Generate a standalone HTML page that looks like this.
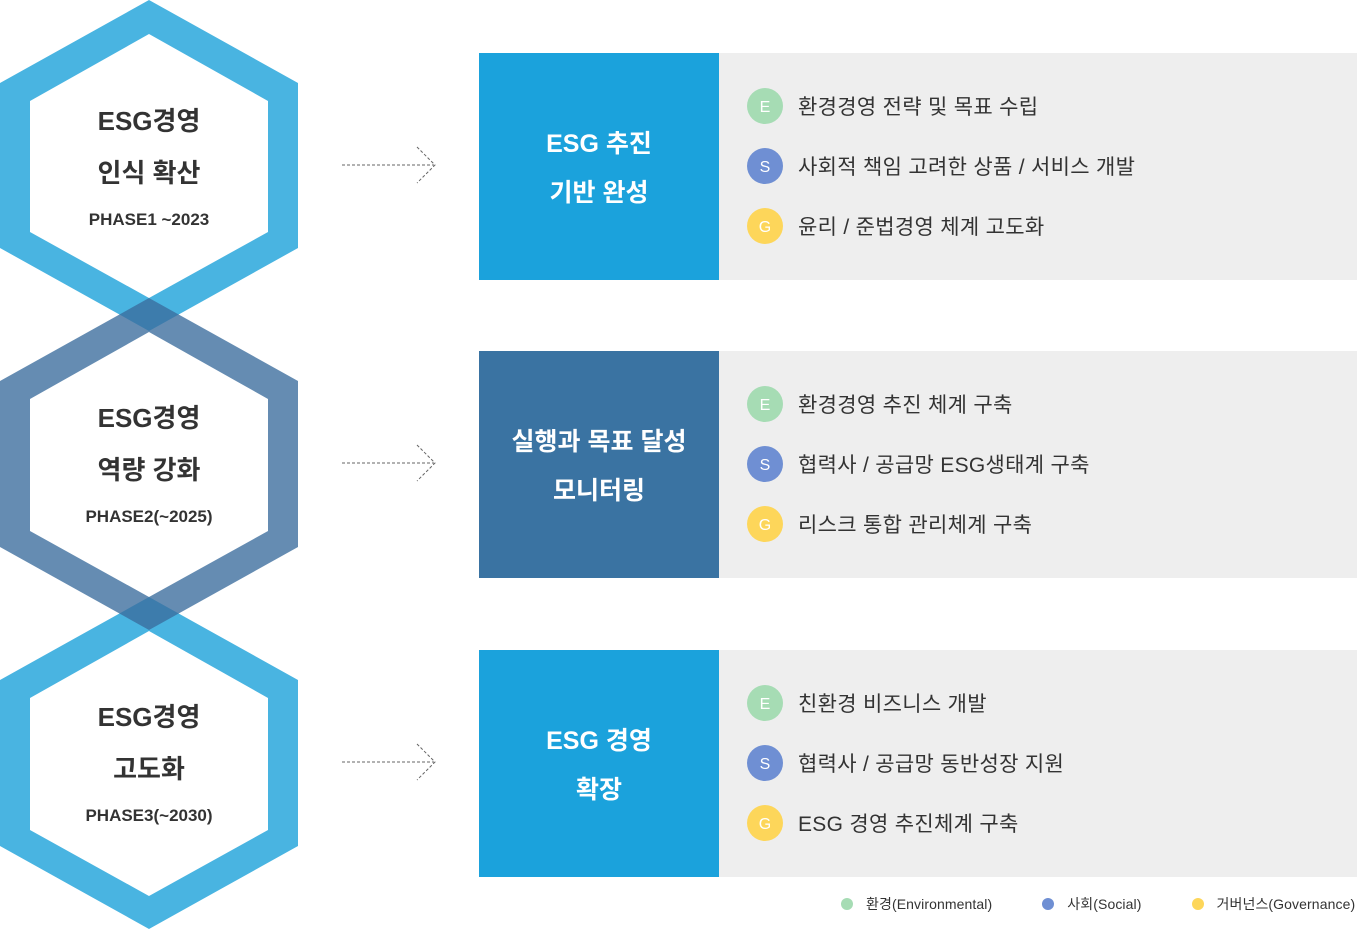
<!DOCTYPE html>
<html><head><meta charset="utf-8"><style>
body{margin:0;width:1357px;height:929px;position:relative;background:#fff;font-family:"Liberation Sans","Noto Sans CJK KR",sans-serif;overflow:hidden}
.a{position:absolute}
.box{position:absolute;left:479px;width:240px;height:227px;color:#fff;font-size:25px;font-weight:bold;text-align:center;display:flex;align-items:center;justify-content:center;line-height:49px;padding-top:4px;box-sizing:border-box}
.gray{position:absolute;left:719px;width:638px;height:227px;background:#eee}
.it{position:absolute;left:28px;font-size:21px;letter-spacing:0.3px;color:#333;display:flex;align-items:center;height:36px}
.c{width:36px;height:36px;border-radius:50%;color:#fff;font-size:16px;display:flex;align-items:center;justify-content:center;margin-right:15px;line-height:36px;padding-top:3px;box-sizing:border-box;letter-spacing:0}
.E{background:#a6dcb4}.S{background:#6f8fd3}.G{background:#fdd65a}
.ht{position:absolute;left:0;width:298px;text-align:center;color:#333}
.ht b{display:block;font-size:26px;line-height:52px}
.ht span{display:block;font-size:17px;font-weight:bold;margin-top:11px}
</style></head><body>
<svg class="a" style="left:0;top:0" width="1357" height="929">
<path fill-rule="evenodd" fill="#49b4e1" d="M149 0L298 83V248L149 331L0 248V83Z M149 34L268 101V232L149 298L30 232V101Z"/>
<path fill-rule="evenodd" fill="#49b4e1" d="M149 597L298 680V846L149 929L0 846V680Z M149 631L268 698V830L149 896L30 830V698Z"/>
<path fill-rule="evenodd" fill="#3a6c9c" opacity="0.78" d="M149 298L298 381V547L149 630L0 547V381Z M149 332L268 399V531L149 597L30 531V399Z"/>
<g stroke="#666" stroke-width="1" stroke-dasharray="3,2" fill="none">
<path d="M342 165H434M417 147L435 165L417 183"/>
<path d="M342 463H434M417 445L435 463L417 481"/>
<path d="M342 762H434M417 744L435 762L417 780"/>
</g>
</svg>
<div class="ht" style="top:95px"><b>ESG경영</b><b>인식 확산</b><span>PHASE1 ~2023</span></div>
<div class="ht" style="top:392px"><b>ESG경영</b><b>역량 강화</b><span>PHASE2(~2025)</span></div>
<div class="ht" style="top:691px"><b>ESG경영</b><b>고도화</b><span>PHASE3(~2030)</span></div>

<div class="box" style="top:53px;background:#1ba2dc">ESG 추진<br>기반 완성</div>
<div class="gray" style="top:53px">
<div class="it" style="top:35px"><div class="c E">E</div>환경경영 전략 및 목표 수립</div>
<div class="it" style="top:95px"><div class="c S">S</div>사회적 책임 고려한 상품 / 서비스 개발</div>
<div class="it" style="top:155px"><div class="c G">G</div>윤리 / 준법경영 체계 고도화</div>
</div>
<div class="box" style="top:351px;background:#3a73a2">실행과 목표 달성<br>모니터링</div>
<div class="gray" style="top:351px">
<div class="it" style="top:35px"><div class="c E">E</div>환경경영 추진 체계 구축</div>
<div class="it" style="top:95px"><div class="c S">S</div>협력사 / 공급망 ESG생태계 구축</div>
<div class="it" style="top:155px"><div class="c G">G</div>리스크 통합 관리체계 구축</div>
</div>
<div class="box" style="top:650px;background:#1ba2dc">ESG 경영<br>확장</div>
<div class="gray" style="top:650px">
<div class="it" style="top:35px"><div class="c E">E</div>친환경 비즈니스 개발</div>
<div class="it" style="top:95px"><div class="c S">S</div>협력사 / 공급망 동반성장 지원</div>
<div class="it" style="top:155px"><div class="c G">G</div>ESG 경영 추진체계 구축</div>
</div>
<div class="a" style="top:895px;left:841px;font-size:14px;letter-spacing:0.1px;color:#333;display:flex;align-items:center;height:18px">
<span style="width:12px;height:12px;border-radius:50%;background:#a6dcb4;margin-right:13px"></span>환경(Environmental)
<span style="width:12px;height:12px;border-radius:50%;background:#6f8fd3;margin:0 13px 0 50px"></span>사회(Social)
<span style="width:12px;height:12px;border-radius:50%;background:#fdd65a;margin:0 13px 0 50px"></span>거버넌스(Governance)
</div>
</body></html>
